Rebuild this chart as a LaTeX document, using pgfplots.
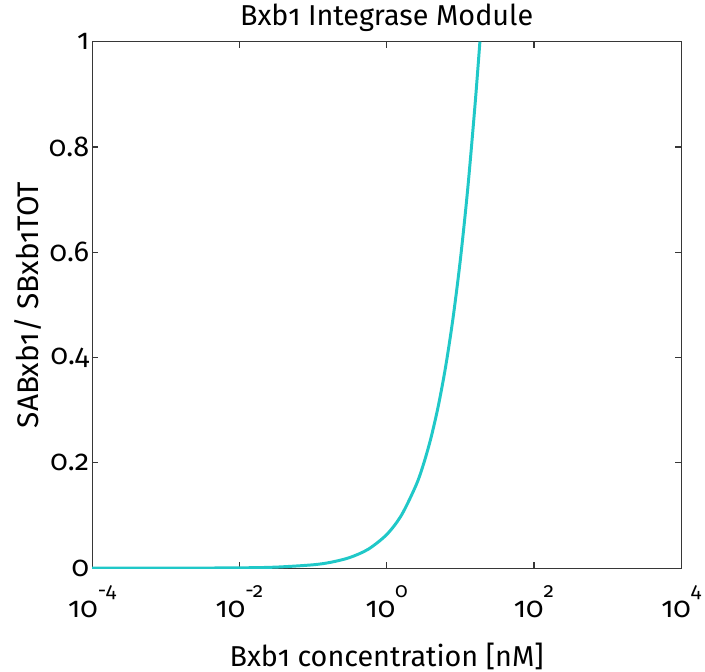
\documentclass[border=0pt]{standalone}
\usepackage{pgfplots}
\pgfplotsset{compat=1.18}
\usepackage{fontspec}
\setmainfont[Numbers=OldStyle]{Fira Sans}
\newfontfamily\tickfont[Numbers=OldStyle]{Fira Sans}
\definecolor{curve}{RGB}{32,200,200}
\definecolor{axgray}{RGB}{55,55,55}
\newcommand{\ex}[1]{\raisebox{10.5pt}{\fontsize{10.5}{12}\selectfont\tickfont #1}}
\newcommand{\tl}[1]{\mbox{\tickfont #1}}
\begin{document}
\begin{tikzpicture}
\begin{axis}[
  scale only axis, width=297pt, height=265.5pt,
  xmode=log, xmin=1e-4, xmax=1e4, ymin=0, ymax=1,
  xtick={1e-4,1e-2,1,1e2,1e4},
  xticklabels={{\tl{10\ex{-4}}},{\tl{10\ex{-2}}},{\tl{10\ex{0}}},{\tl{10\ex{2}}},{\tl{10\ex{4}}}},
  minor xtick={},
  ytick={0,0.2,0.4,0.6,0.8,1},
  yticklabels={\tl{0},\tl{0.2},\tl{0.4},\tl{0.6},\tl{0.8},\tl{1}},
  tick align=inside, major tick length=3pt,
  xtick pos=both, ytick pos=both,
  xticklabel pos=lower, yticklabel pos=left,
  axis line style={axgray, line width=0.6pt},
  tick style={axgray, line width=0.6pt},
  ticklabel style={font=\tickfont\fontsize{14.5}{16}\selectfont, text=black},
  xticklabel style={yshift=-5pt},
  yticklabel style={xshift=2pt},
  title={Bxb1 Integrase Module},
  title style={at={(axis description cs:0.5,1.0452)}, anchor=center, yshift=-6pt, font=\fontsize{14.5}{16}\selectfont},
  xlabel={Bxb1 concentration [nM]},
  xlabel style={at={(axis description cs:0.5,-0.1638)}, anchor=center, yshift=-1pt, font=\fontsize{14.5}{16}\selectfont},
  ylabel={SABxb1/ SBxb1TOT},
  ylabel style={at={(axis description cs:-0.1094,0.5)}, anchor=center, font=\fontsize{15}{17}\selectfont},
  clip=true,
]
\addplot[curve, line width=1.5pt, smooth] table {
x y
0.0001 0.0000065
0.001 0.0000645
0.01 0.000645
0.0316 0.00204
0.1 0.00644
0.1778 0.01145
0.3162 0.02033
0.5623 0.03606
1.0 0.06385
1.585 0.1006
2.512 0.1580
3.162 0.1976
3.981 0.2468
5.012 0.3076
6.310 0.3824
7.943 0.4740
10.0 0.5854
12.59 0.7198
15.85 0.8803
18.45 1.0
};
\end{axis}
\pgfresetboundingbox
\path[use as bounding box] ([shift={(-46.5pt,-52pt)}]current axis.south west) rectangle ([shift={(12pt,21pt)}]current axis.north east);
\end{tikzpicture}
\end{document}
